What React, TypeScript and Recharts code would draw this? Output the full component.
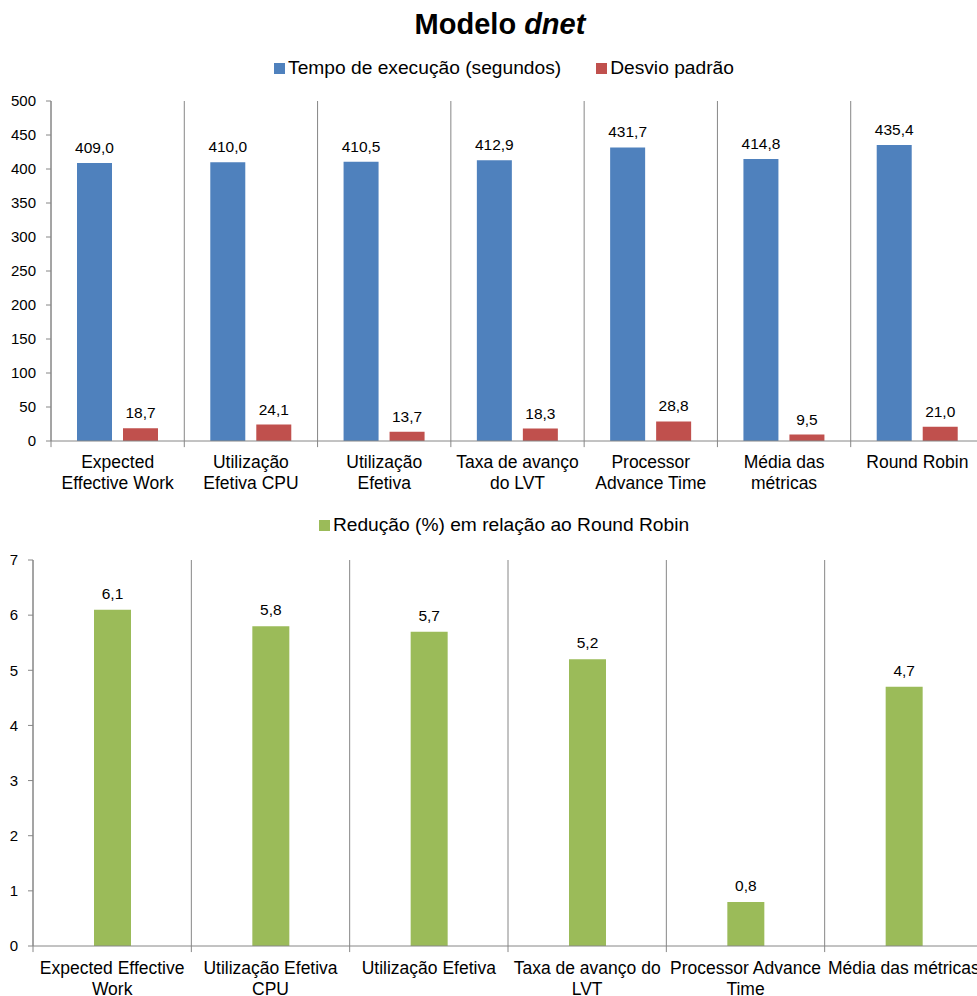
import React from 'react';
import {
  BarChart,
  Bar,
  XAxis,
  YAxis,
  ReferenceLine,
  LabelList
} from 'recharts';

const categories = [
  'Expected Effective Work',
  'Utilização Efetiva CPU',
  'Utilização Efetiva',
  'Taxa de avanço do LVT',
  'Processor Advance Time',
  'Média das métricas',
  'Round Robin'
];
const tempoExecucao = [409.0, 410.0, 410.5, 412.9, 431.7, 414.8, 435.4];
const desvioPadrao = [18.7, 24.1, 13.7, 18.3, 28.8, 9.5, 21.0];

// the second chart leaves Round Robin out, it is the baseline
const reducaoCategories = categories.slice(0, 6);
const reducao = [6.1, 5.8, 5.7, 5.2, 0.8, 4.7];

const tempoTicks = [0, 50, 100, 150, 200, 250, 300, 350, 400, 450, 500];
const reducaoTicks = [0, 1, 2, 3, 4, 5, 6, 7];

const topSeries = [
  { key: 'tempo', name: 'Tempo de execução (segundos)', color: '#4F81BD' },
  { key: 'desvio', name: 'Desvio padrão', color: '#C0504D' }
];
const bottomSeries = [
  { key: 'reducao', name: 'Redução (%) em relação ao Round Robin', color: '#9BBB59' }
];

const topData = categories.map((name, i) => ({
  name,
  tempo: tempoExecucao[i],
  desvio: desvioPadrao[i]
}));
const bottomData = reducaoCategories.map((name, i) => ({ name, reducao: reducao[i] }));

const FONT = '"Liberation Sans", Arial, sans-serif';
const AXIS = '#868686';
const TICK_FONT = 17.5;

const fmt = (v: number) => v.toFixed(1).replace('.', ',');

let measureCtx: CanvasRenderingContext2D | null = null;

// greedy word wrap, measured with the same font the tick uses
function wrapLabel(text: string, maxWidth: number): string[] {
  if (!measureCtx) measureCtx = document.createElement('canvas').getContext('2d');
  const ctx = measureCtx!;
  ctx.font = `${TICK_FONT}px ${FONT}`;
  const lines: string[] = [];
  let cur = '';
  for (const w of text.split(' ')) {
    const next = cur ? cur + ' ' + w : w;
    if (cur && ctx.measureText(next).width > maxWidth) {
      lines.push(cur);
      cur = w;
    } else {
      cur = next;
    }
  }
  if (cur) lines.push(cur);
  return lines;
}

const WrappedTick = (props: any) => {
  const { x, y, payload, wrapWidth, shift } = props;
  const lines = wrapLabel(String(payload.value), wrapWidth);
  return (
    <text
      x={x}
      y={y + shift}
      textAnchor="middle"
      fill="#000"
      style={{ fontSize: TICK_FONT, fontFamily: FONT }}
    >
      {lines.map((l, i) => (
        <tspan key={i} x={x} dy={i === 0 ? '0.71em' : 20.5}>
          {l}
        </tspan>
      ))}
    </text>
  );
};

function LegendRow({ items, top }: { items: typeof topSeries; top: number }) {
  return (
    <div
      style={{
        position: 'absolute',
        top,
        left: 4,
        width: 1000,
        display: 'flex',
        justifyContent: 'center',
        gap: 35,
        fontSize: 19.2,
        lineHeight: '22px'
      }}
    >
      {items.map((s) => (
        <div key={s.key} style={{ display: 'flex', alignItems: 'center', gap: 3 }}>
          <div style={{ width: 11, height: 11, backgroundColor: s.color }} />
          <span>{s.name}</span>
        </div>
      ))}
    </div>
  );
}

export default function App() {
  return (
    <div
      style={{
        position: 'absolute',
        left: 0,
        top: 0,
        width: 977,
        height: 996,
        overflow: 'hidden',
        background: '#fff',
        fontFamily: FONT,
        color: '#000'
      }}
    >
      <div
        style={{
          position: 'absolute',
          top: 6,
          left: 0,
          width: 1000,
          textAlign: 'center',
          fontSize: 29,
          fontWeight: 'bold',
          lineHeight: '36px'
        }}
      >
        Modelo <i>dnet</i>
      </div>

      <LegendRow items={topSeries} top={57} />

      <div style={{ position: 'absolute', top: 0, left: 0 }}>
        <BarChart
          width={1000}
          height={510}
          data={topData}
          margin={{ top: 101, right: 16, left: 0, bottom: 0 }}
          barSize={35}
          barGap={11}
        >
          <XAxis
            xAxisId="cat"
            dataKey="name"
            height={69}
            stroke={AXIS}
            tickLine={false}
            interval={0}
            tick={(p: any) => <WrappedTick {...p} wrapWidth={130} shift={7} />}
          />
          <YAxis
            width={51}
            domain={[0, 500]}
            ticks={tempoTicks}
            tickSize={5}
            tickMargin={10}
            stroke={AXIS}
            tick={{ fill: '#000', fontSize: 15, fontFamily: FONT }}
          />
          {/* separators between categories, running a little below the axis */}
          {categories.map((name) => (
            <ReferenceLine
              key={name}
              xAxisId="cat"
              position="start"
              segment={[
                { x: name, y: -9 },
                { x: name, y: 500 }
              ]}
              ifOverflow="visible"
              stroke={AXIS}
            />
          ))}
          {topSeries.map((s) => (
            <Bar key={s.key} xAxisId="cat" dataKey={s.key} fill={s.color} isAnimationActive={false}>
              <LabelList
                dataKey={s.key}
                position="top"
                offset={10}
                formatter={(v: any) => fmt(Number(v))}
                style={{ fill: '#000', fontSize: 15.5, fontFamily: FONT }}
              />
            </Bar>
          ))}
        </BarChart>
      </div>

      <LegendRow items={bottomSeries} top={514} />

      <div style={{ position: 'absolute', top: 500, left: 0 }}>
        <BarChart
          width={1000}
          height={496}
          data={bottomData}
          margin={{ top: 60, right: 17, left: 0, bottom: 0 }}
          barSize={37}
        >
          <XAxis
            xAxisId="cat"
            dataKey="name"
            height={50}
            stroke={AXIS}
            tickLine={false}
            interval={0}
            tick={(p: any) => <WrappedTick {...p} wrapWidth={158} shift={8} />}
          />
          <YAxis
            width={33}
            domain={[0, 7]}
            ticks={reducaoTicks}
            tickSize={5}
            tickMargin={10}
            stroke={AXIS}
            tick={{ fill: '#000', fontSize: 15, fontFamily: FONT }}
          />
          {reducaoCategories.map((name) => (
            <ReferenceLine
              key={name}
              xAxisId="cat"
              position="start"
              segment={[
                { x: name, y: -0.11 },
                { x: name, y: 7 }
              ]}
              ifOverflow="visible"
              stroke={AXIS}
            />
          ))}
          {bottomSeries.map((s) => (
            <Bar key={s.key} xAxisId="cat" dataKey={s.key} fill={s.color} isAnimationActive={false}>
              <LabelList
                dataKey={s.key}
                position="top"
                offset={11}
                formatter={(v: any) => fmt(Number(v))}
                style={{ fill: '#000', fontSize: 15.5, fontFamily: FONT }}
              />
            </Bar>
          ))}
        </BarChart>
      </div>
    </div>
  );
}
